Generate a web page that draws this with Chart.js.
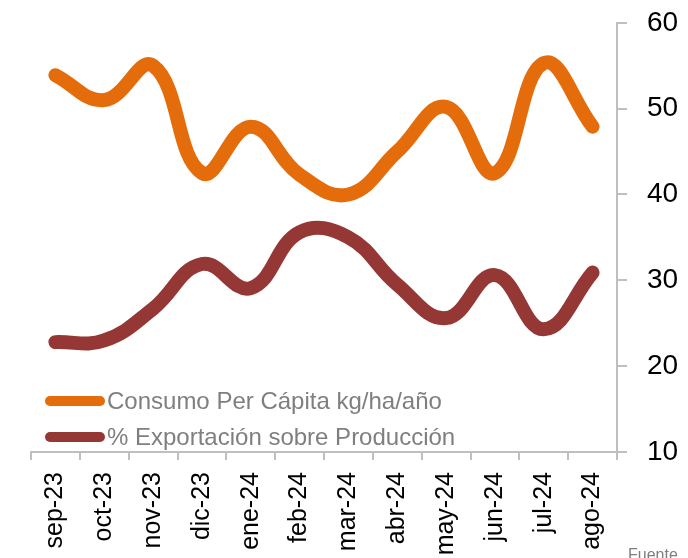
<!DOCTYPE html>
<html>
<head>
<meta charset="utf-8">
<script src="https://cdn.jsdelivr.net/npm/chart.js@4/dist/chart.umd.min.js"></script>
<style>
  html, body { margin: 0; padding: 0; background: #ffffff; }
  #wrap { position: relative; width: 688px; height: 558px; overflow: hidden; }
  #c { position: absolute; left: 0; top: -14px; }
  #fuente { position: absolute; left: 628px; top: 546px; font-family: "Liberation Sans", Arial, sans-serif; font-size: 16px; line-height: 18px; color: #7f7f7f; white-space: nowrap; }
</style>
</head>
<body>
<div id="wrap">
  <canvas id="c" width="688" height="572"></canvas>
  <div id="fuente">Fuente</div>
</div>
<script>
const categories = ["sep-23","oct-23","nov-23","dic-23","ene-24","feb-24","mar-24","abr-24","may-24","jun-24","jul-24","ago-24"];
const consumoLabel = "Consumo Per Cápita kg/ha/año";
const consumo = [53.9, 51.0, 55.0, 42.5, 47.9, 42.3, 40.0, 45.0, 50.2, 42.5, 55.3, 47.9];
const exportLabel = "% Exportación sobre Producción";
const exportacion = [22.8, 23.0, 26.7, 31.9, 29.1, 35.6, 35.0, 29.5, 25.6, 30.6, 24.3, 30.9];
const yTicks = [10, 20, 30, 40, 50, 60];

const FONT = '"Liberation Sans", Arial, sans-serif';
const AXIS = '#bfbfbf';
const SHIFT = 14;

const insideLegend = {
  id: 'insideLegend',
  afterDraw(chart) {
    const ctx = chart.ctx;
    const rows = [401 + SHIFT, 437 + SHIFT];
    chart.data.datasets.forEach((ds, i) => {
      const y = rows[i];
      ctx.save();
      ctx.strokeStyle = ds.borderColor;
      ctx.lineWidth = 10;
      ctx.lineCap = 'round';
      ctx.beginPath();
      ctx.moveTo(50, y);
      ctx.lineTo(100, y);
      ctx.stroke();
      ctx.fillStyle = '#7f7f7f';
      ctx.font = '24px ' + FONT;
      ctx.textBaseline = 'middle';
      ctx.textAlign = 'left';
      ctx.fillText(ds.label, 107, y + 1);
      ctx.restore();
    });
  }
};

new Chart(document.getElementById('c'), {
  type: 'line',
  data: {
    labels: categories,
    datasets: [
      { label: consumoLabel, data: consumo, borderColor: '#e46c0a', backgroundColor: '#e46c0a',
        borderWidth: 14, tension: 0.42, pointRadius: 0, borderCapStyle: 'round', borderJoinStyle: 'round', fill: false },
      { label: exportLabel, data: exportacion, borderColor: '#953735', backgroundColor: '#953735',
        borderWidth: 14, tension: 0.42, pointRadius: 0, borderCapStyle: 'round', borderJoinStyle: 'round', fill: false }
    ]
  },
  options: {
    responsive: false,
    animation: false,
    layout: { padding: { top: 9, left: 31, right: 0, bottom: 0 } },
    plugins: { legend: { display: false }, tooltip: { enabled: false } },
    scales: {
      x: {
        offset: true,
        grid: { offset: true, drawOnChartArea: false, drawTicks: true, tickLength: 8, color: AXIS, lineWidth: 2 },
        border: { display: true, color: AXIS, width: 2 },
        ticks: { color: '#000000', font: { family: FONT, size: 25 }, minRotation: 90, maxRotation: 90, autoSkip: false, padding: 12 },
        afterFit(s) { s.height = 106; }
      },
      y: {
        position: 'right',
        min: 10, max: 60,
        afterBuildTicks(s) { s.ticks = yTicks.map(v => ({ value: v })); },
        grid: { drawOnChartArea: false, drawTicks: true, tickLength: 10, color: AXIS, lineWidth: 2 },
        border: { display: true, color: AXIS, width: 2 },
        ticks: { color: '#000000', font: { family: FONT, size: 28 }, padding: 20 },
        afterFit(s) { s.width = 71; }
      }
    }
  },
  plugins: [insideLegend]
});
</script>
</body>
</html>
